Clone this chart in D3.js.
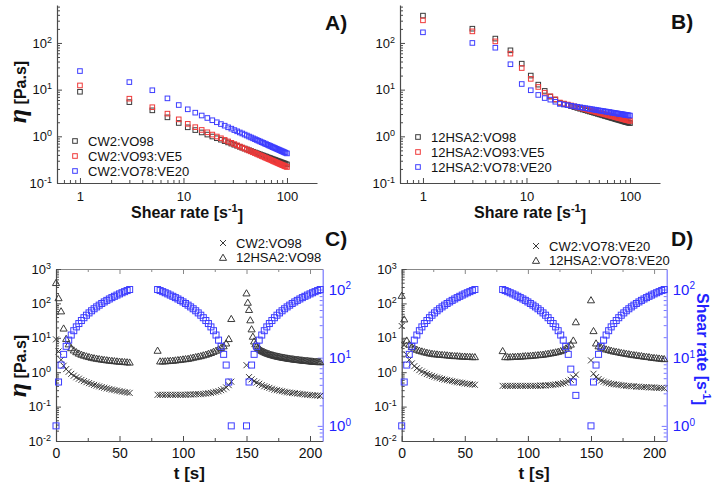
<!DOCTYPE html>
<html><head><meta charset="utf-8">
<script src="https://cdn.jsdelivr.net/npm/d3@7"></script>
<style>body{margin:0;background:#fff} text{font-family:"Liberation Sans",Arial,sans-serif}</style>
</head><body><svg id="c" width="716" height="489"></svg>
<script>
// ---------- DATA ----------
const shearRates = [1,3,5,7,9,11,13,15,17,19,21,23,25,27,29,31,33,35,37,39,41,43,45,47,49,51,53,55,57,59,61,63,65,67,69,71,73,75,77,79,81,83,85,87,89,91,93,95,97,100];
const etaCW2_VO98 = [9.0,5.4,3.6,2.55,1.93,1.56,1.36,1.21,1.09,0.99,0.91,0.846,0.789,0.740,0.698,0.660,0.627,0.597,0.570,0.546,0.523,0.503,0.484,0.467,0.451,0.437,0.423,0.410,0.398,0.387,0.376,0.367,0.357,0.348,0.340,0.332,0.324,0.317,0.310,0.304,0.297,0.292,0.286,0.280,0.275,0.270,0.265,0.261,0.256,0.250];
const etaCW2_VO93_VE5 = [12.3,6.4,4.2,3.06,2.31,1.85,1.57,1.37,1.22,1.09,0.99,0.908,0.838,0.778,0.726,0.681,0.641,0.605,0.574,0.545,0.520,0.496,0.475,0.455,0.438,0.421,0.406,0.391,0.378,0.366,0.354,0.343,0.333,0.324,0.315,0.306,0.298,0.290,0.283,0.276,0.269,0.263,0.257,0.251,0.246,0.241,0.236,0.231,0.226,0.220];
const etaCW2_VO78_VE20 = [25,14.5,9.7,6.5,4.68,3.79,3.21,2.79,2.47,2.21,2.00,1.83,1.69,1.56,1.46,1.36,1.28,1.21,1.15,1.09,1.04,0.988,0.945,0.905,0.869,0.835,0.804,0.775,0.748,0.723,0.700,0.678,0.658,0.638,0.620,0.603,0.586,0.571,0.556,0.542,0.529,0.517,0.505,0.493,0.482,0.472,0.462,0.452,0.443,0.430];
const eta12HSA2_VO98 = [385,202,124,69.5,36,20,12.8,9.4,7.1,6.1,5.2,4.91,4.65,4.43,4.23,4.05,3.89,3.75,3.62,3.50,3.39,3.29,3.19,3.11,3.02,2.95,2.88,2.81,2.74,2.68,2.63,2.57,2.52,2.47,2.43,2.38,2.34,2.30,2.26,2.23,2.19,2.16,2.13,2.09,2.06,2.03,2.01,1.98,1.95,1.92];
const eta12HSA2_VO93_VE5 = [305,177,108,59,29,17,11.4,8.6,7.2,6.2,5.3,5.03,4.79,4.58,4.40,4.23,4.08,3.94,3.82,3.70,3.60,3.50,3.41,3.32,3.24,3.17,3.10,3.03,2.97,2.91,2.86,2.80,2.75,2.70,2.66,2.61,2.57,2.53,2.49,2.46,2.42,2.39,2.36,2.32,2.29,2.26,2.24,2.21,2.18,2.14];
const eta12HSA2_VO78_VE20 = [169,100,79,35,13.2,9.7,7.7,6.6,6.1,5.5,4.95,4.79,4.64,4.51,4.39,4.29,4.19,4.10,4.01,3.94,3.86,3.80,3.73,3.67,3.62,3.56,3.51,3.47,3.42,3.38,3.34,3.30,3.26,3.22,3.19,3.15,3.12,3.09,3.06,3.03,3.00,2.98,2.95,2.93,2.90,2.88,2.85,2.83,2.81,2.78];

// time series (panels C, D)
const tSeg1 = [0,2,4,6,8,10,12,14,16,18,20,22,24,26,28,30,32,34,36,38,40,42,44,46,48,50,52,54,56,58];
const tSeg2 = [80,82,84,86,88,90,92,94,96,98,100,102,104,106,108,110,112,114,116,118,120,122,124,126,128,130,132,134,136,138];
const tSeg3 = [150,152,154,156,158,160,162,164,166,168,170,172,174,176,178,180,182,184,186,188,190,192,194,196,198,200,202,204,206,208];
const tSeg3Dense = [150,151,152,153,154,155,156,157,158,159,160,161,162,163,164,165,166,167,168,169,170,171,172,173,174,175,176,177,178,179,180,181,182,183,184,185,186,187,188,189,190,191,192,193,194,195,196,197,198,199,200,201,202,203,204,205,206,207,208];
const rateUp = [1,4.4,7.8,11.2,14.7,18.1,21.5,24.9,28.3,31.7,35.1,38.6,42,45.4,48.8,52.2,55.6,59,62.4,65.8,69.3,72.7,76.1,79.5,82.9,86.3,89.7,93.1,96.6,100];
const rateDownC = [100,96.6,93.1,89.7,86.3,82.9,79.5,76.1,72.7,69.3,65.8,62.4,59,55.6,52.2,48.8,45.4,42,38.6,35.1,31.7,28.3,24.9,21.5,18.1,14.7,11.2,7.8,4.4,1];
const rateDownD = [100,96.6,93.1,89.7,86.3,82.9,79.5,76.1,72.7,69.3,65.8,62.4,59,55.6,52.2,48.8,45.4,42,38.6,35.1,31.7,28.3,24.9,21.5,18.1,14.7,11.2,6.8,4.4,2.8];

const cCW2_seg1 = [9.0,4.0,2.3,1.54,1.23,1.03,0.895,0.792,0.712,0.648,0.595,0.550,0.513,0.481,0.453,0.428,0.407,0.387,0.369,0.354,0.339,0.325,0.313,0.302,0.292,0.282,0.273,0.265,0.257,0.250];
const cCW2_seg2 = [0.22,0.22,0.22,0.22,0.22,0.22,0.22,0.22,0.22,0.22,0.22,0.22,0.225,0.225,0.225,0.23,0.23,0.23,0.235,0.24,0.245,0.25,0.26,0.27,0.28,0.30,0.32,0.36,0.42,0.53];
const cCW2_seg3 = [1.6,0.72,0.62,0.55,0.5,0.46,0.42,0.39,0.37,0.35,0.33,0.31,0.3,0.29,0.28,0.27,0.26,0.255,0.25,0.245,0.24,0.235,0.23,0.225,0.22,0.218,0.215,0.212,0.21,0.205];
const cHSA_seg1 = [400,145,60,19,9.5,6.6,5.1,4.4,3.9,3.55,3.3,3.1,2.95,2.82,2.7,2.6,2.52,2.45,2.38,2.32,2.27,2.22,2.18,2.14,2.1,2.07,2.04,2.01,1.98,1.95];
const cHSA_seg2 = [4.3,2.1,2.1,2.12,2.15,2.18,2.2,2.25,2.3,2.35,2.4,2.45,2.5,2.6,2.7,2.8,2.9,3.0,3.15,3.3,3.5,3.7,4.0,4.3,4.7,5.2,5.8,7.0,9.4,36];
const cHSA_seg3 = [200,107,66,33,18,11,8.0,6.6,5.8,5.2,4.8,4.5,4.25,4.05,3.9,3.75,3.62,3.5,3.4,3.3,3.22,3.14,3.07,3.0,2.94,2.88,2.83,2.78,2.73,2.69,2.65,2.61,2.57,2.54,2.5,2.47,2.44,2.41,2.38,2.36,2.33,2.31,2.28,2.26,2.24,2.22,2.2,2.18,2.16,2.14,2.12,2.1,2.09,2.07,2.05,2.04,2.02,2.01,2.0];

const dCW2_seg1 = [22,6.2,3.2,2.3,1.8,1.5,1.3,1.15,1.05,0.96,0.89,0.83,0.78,0.74,0.70,0.67,0.64,0.61,0.59,0.57,0.55,0.53,0.51,0.50,0.49,0.47,0.46,0.45,0.44,0.43];
const dCW2_seg2 = [0.40,0.40,0.40,0.40,0.40,0.40,0.40,0.40,0.40,0.40,0.40,0.40,0.40,0.40,0.40,0.41,0.41,0.41,0.42,0.42,0.43,0.44,0.45,0.46,0.48,0.5,0.55,0.6,0.7,0.85];
const dCW2_seg3 = [2.2,0.9,0.72,0.63,0.57,0.53,0.5,0.48,0.46,0.45,0.44,0.43,0.42,0.41,0.40,0.40,0.39,0.39,0.38,0.38,0.37,0.37,0.37,0.36,0.36,0.36,0.35,0.35,0.35,0.34];
const dHSA_seg1 = [170,35,8.5,6.5,5.5,5.0,4.6,4.3,4.1,3.9,3.75,3.6,3.5,3.4,3.35,3.3,3.25,3.2,3.15,3.1,3.05,3.0,3.0,2.95,2.9,2.9,2.85,2.85,2.8,2.8];
const dHSA_seg2 = [4.2,2.8,2.8,2.8,2.85,2.85,2.9,2.9,2.95,3.0,3.0,3.05,3.1,3.15,3.2,3.25,3.3,3.4,3.5,3.6,3.7,3.85,4.0,4.2,4.5,5.0,5.8,6.5,8.5,29];
const dHSA_seg3 = [126,16,7,5.8,5.3,5.0,4.7,4.5,4.3,4.1,4.0,3.85,3.7,3.6,3.5,3.4,3.3,3.2,3.15,3.05,3.0,2.9,2.85,2.8,2.7,2.65,2.6,2.55,2.5,2.45];

const legendA = ["CW2:VO98","CW2:VO93:VE5","CW2:VO78:VE20"];
const legendB = ["12HSA2:VO98","12HSA2:VO93:VE5","12HSA2:VO78:VE20"];
const legendC = ["CW2:VO98","12HSA2:VO98"];
const legendD = ["CW2:VO78:VE20","12HSA2:VO78:VE20"];
const etaTicks = [0.1,1,10,100];
const etaTicksCD = [0.01,0.1,1,10,100,1000];
const rateTicks = [1,10,100];
const timeTicks = [0,50,100,150,200];
const timeMinor = [25,75,125,175];

// ---------- DRAW ----------
const svg = d3.select("#c");
const COL = {k:"#3a3a3a", r:"#f03a3a", b:"#3d3dff", axis:"#4a4a4a", raxis:"#7777ff", rlab:"#2222ff"};

function logMinors(d0,d1){const r=[];for(let k=Math.floor(Math.log10(d0));k<=Math.ceil(Math.log10(d1));k++)for(let m=2;m<=9;m++){const v=m*Math.pow(10,k);if(v>=d0&&v<=d1)r.push(v);}return r;}
function supFmt(sel){
  sel.selectAll(".tick text").each(function(d){
    const e=Math.round(Math.log10(d));const t=d3.select(this);t.text(null);
    t.append("tspan").text("10");
    t.append("tspan").attr("dy","-0.55em").attr("font-size","9px").text(e<0?"-"+(-e):String(e));
  });
}
function styleAxis(g,color,fs){
  g.select(".domain").attr("stroke",color).attr("stroke-width",1.2);
  g.selectAll(".tick line").attr("stroke",color).attr("stroke-width",1);
  g.selectAll(".tick text").attr("fill",color===COL.raxis?COL.rlab:"#111").attr("font-size",fs||13).attr("font-family","Liberation Sans, Arial, sans-serif");
}
function addLogAxis(gen,tx,ty,color){
  const g=svg.append("g").attr("transform",`translate(${tx},${ty})`);
  g.call(gen);
  styleAxis(g,color);
  supFmt(g);
  return g;
}
function minorAxis(axisFn,scale,vals,tx,ty,color,len){
  const g=svg.append("g").attr("transform",`translate(${tx},${ty})`);
  g.call(axisFn(scale).tickValues(vals).tickSize(len).tickSizeOuter(0).tickFormat(""));
  g.select(".domain").remove();
  g.selectAll(".tick line").attr("stroke",color).attr("stroke-width",1);
}
function squares(data,x,y,color,s){
  svg.append("g").selectAll("rect").data(data).join("rect")
    .attr("x",d=>x(d[0])-s/2).attr("y",d=>y(d[1])-s/2).attr("width",s).attr("height",s)
    .attr("fill","none").attr("stroke",color).attr("stroke-width",1);
}
function crosses(ts,vs,x,y,color){
  svg.append("g").selectAll("path").data(ts.map((t,i)=>[t,vs[i]])).join("path")
    .attr("d",d=>{const cx=x(d[0]),cy=y(d[1]);return `M${cx-3},${cy-3}L${cx+3},${cy+3}M${cx-3},${cy+3}L${cx+3},${cy-3}`;})
    .attr("stroke",color).attr("stroke-width",1).attr("fill","none");
}
const tri=d3.symbol(d3.symbolTriangle,22);
function triangles(ts,vs,x,y,color){
  svg.append("g").selectAll("path").data(ts.map((t,i)=>[t,vs[i]])).join("path")
    .attr("transform",d=>`translate(${x(d[0])},${y(d[1])+0.8})`).attr("d",tri())
    .attr("stroke",color).attr("stroke-width",1).attr("fill","none");
}

// ---- Panels A & B ----
function panelAB(left,right,series,legend,lx,ly,xTitle){
  const x=d3.scaleLog().domain([0.6,195]).range([left,right]);
  const y=d3.scaleLog().domain([0.1,650]).range([183,5]);
  minorAxis(d3.axisLeft,y,logMinors(0.1,650),left,0,COL.axis,-3);
  minorAxis(d3.axisBottom,x,logMinors(0.6,195),0,183,COL.axis,-3);
  addLogAxis(d3.axisLeft(y).tickValues(etaTicks).tickSize(-5).tickSizeOuter(0).tickPadding(5),left,0,COL.axis);
  const gb=svg.append("g").attr("transform","translate(0,183)").call(d3.axisBottom(x).tickValues(rateTicks).tickSize(-5).tickSizeOuter(0).tickPadding(9).tickFormat(d3.format("d")));
  styleAxis(gb,COL.axis);
  const cols=[COL.k,COL.r,COL.b];
  series.forEach((s,i)=>squares(shearRates.map((r,j)=>[r,s[j]]),x,y,cols[i],4.6));
  legend.forEach((t,i)=>{
    svg.append("rect").attr("x",lx-2.3).attr("y",ly+i*15-2.3).attr("width",4.6).attr("height",4.6).attr("fill","none").attr("stroke",cols[i]);
    svg.append("text").attr("x",lx+13).attr("y",ly+i*15).attr("dy","0.36em").attr("font-size",13).attr("fill","#111").text(t);
  });
  const tt=svg.append("text").attr("x",(left+right)/2).attr("y",218).attr("text-anchor","middle").attr("font-size",16).attr("font-weight","bold").attr("fill","#111");
  tt.append("tspan").text(xTitle+" [s");
  tt.append("tspan").attr("dy","-0.55em").attr("font-size",11).text("-1");
  tt.append("tspan").attr("dy","0.55em").text("]");
}
panelAB(57,317,[etaCW2_VO98,etaCW2_VO93_VE5,etaCW2_VO78_VE20],legendA,75,141,"Shear rate");
panelAB(400,660,[eta12HSA2_VO98,eta12HSA2_VO93_VE5,eta12HSA2_VO78_VE20],legendB,418,137,"Share rate");

function etaTitle(cx,cy){
  const t=svg.append("text").attr("transform",`translate(${cx},${cy}) rotate(-90)`).attr("text-anchor","middle").attr("fill","#111").attr("font-weight","bold");
  t.append("tspan").attr("font-family","Liberation Serif, serif").attr("font-style","italic").attr("font-size",26).text("η");
  t.append("tspan").attr("font-size",16).text(" [Pa.s]");
}
etaTitle(26,92);
etaTitle(26,366);

function panelLabel(x,y,t){svg.append("text").attr("x",x).attr("y",y).attr("font-family","Liberation Serif, serif").attr("font-weight","bold").attr("font-size",21).attr("fill","#111").text(t);}
panelLabel(325,30,"A)");panelLabel(671,29,"B)");panelLabel(325,246,"C)");panelLabel(671,246,"D)");

// ---- Panels C & D ----
function panelCD(left,right,cw,hsa,rateDown,legend,lx,ly,rightTitle){
  const x=d3.scaleLinear().domain([0,210]).range([left,right]);
  const y=d3.scaleLog().domain([0.01,1000]).range([441,269]);
  const r=d3.scaleLog().domain([0.6,200]).range([441,269]);
  minorAxis(d3.axisLeft,y,logMinors(0.01,1000),left,0,COL.axis,-3);
  minorAxis(d3.axisBottom,x,timeMinor,0,441,COL.axis,-3);
  minorAxis(d3.axisTop,x,timeMinor,0,269,"#888",-3);
  minorAxis(d3.axisRight,r,logMinors(0.6,200),right,0,COL.raxis,-3);
  const gt=svg.append("g").attr("transform","translate(0,269)").call(d3.axisTop(x).tickValues(timeTicks).tickSize(-5).tickSizeOuter(0).tickFormat(""));
  styleAxis(gt,"#888");
  addLogAxis(d3.axisLeft(y).tickValues(etaTicksCD).tickSize(-5).tickSizeOuter(0).tickPadding(5),left,0,COL.axis);
  const gb=svg.append("g").attr("transform","translate(0,441)").call(d3.axisBottom(x).tickValues(timeTicks).tickSize(-5).tickSizeOuter(0).tickPadding(7));
  styleAxis(gb,COL.axis,14);
  const gr=svg.append("g").attr("transform",`translate(${right},0)`).call(d3.axisRight(r).tickValues(rateTicks).tickSize(-5).tickSizeOuter(0).tickPadding(6));
  styleAxis(gr,COL.raxis,15);
  supFmt(gr);gr.selectAll(".tick text tspan:last-child").attr("font-size","10px");
  crosses(tSeg1,cw[0],x,y,COL.k);crosses(tSeg2,cw[1],x,y,COL.k);crosses(tSeg3,cw[2],x,y,COL.k);
  triangles(tSeg1,hsa[0],x,y,COL.k);triangles(tSeg2,hsa[1],x,y,COL.k);triangles(hsa[3],hsa[2],x,y,COL.k);
  squares(tSeg1.map((t,i)=>[t,rateUp[i]]),x,r,COL.b,6);
  squares(tSeg2.map((t,i)=>[t,rateDown[i]]),x,r,COL.b,6);
  squares(tSeg3.map((t,i)=>[t,rateUp[i]]),x,r,COL.b,6);
  crosses([0],[1],()=>lx,()=>ly,COL.k);
  triangles([0],[1],()=>lx,()=>ly+14.5,COL.k);
  legend.forEach((t,i)=>svg.append("text").attr("x",lx+13).attr("y",ly+i*14.5).attr("dy","0.36em").attr("font-size",13).attr("fill","#111").text(t));
  svg.append("text").attr("x",(left+right)/2).attr("y",479).attr("text-anchor","middle").attr("font-size",17).attr("font-weight","bold").attr("fill","#111").text("t [s]");
  if(rightTitle){
    const rt=svg.append("text").attr("transform",`translate(${right+30},349) rotate(90)`).attr("text-anchor","middle").attr("font-size",16).attr("font-weight","bold").attr("fill",COL.rlab);
    rt.append("tspan").text("Shear rate [s");
    rt.append("tspan").attr("dy","-0.55em").attr("font-size",11).text("-1");
    rt.append("tspan").attr("dy","0.55em").text("]");
  }
}
panelCD(56,322.7,[cCW2_seg1,cCW2_seg2,cCW2_seg3],[cHSA_seg1,cHSA_seg2,cHSA_seg3,tSeg3Dense],rateDownC,legendC,223,243,false);
panelCD(401.7,666.7,[dCW2_seg1,dCW2_seg2,dCW2_seg3],[dHSA_seg1,dHSA_seg2,dHSA_seg3,tSeg3],rateDownD,legendD,536,246,true);
</script></body></html>
